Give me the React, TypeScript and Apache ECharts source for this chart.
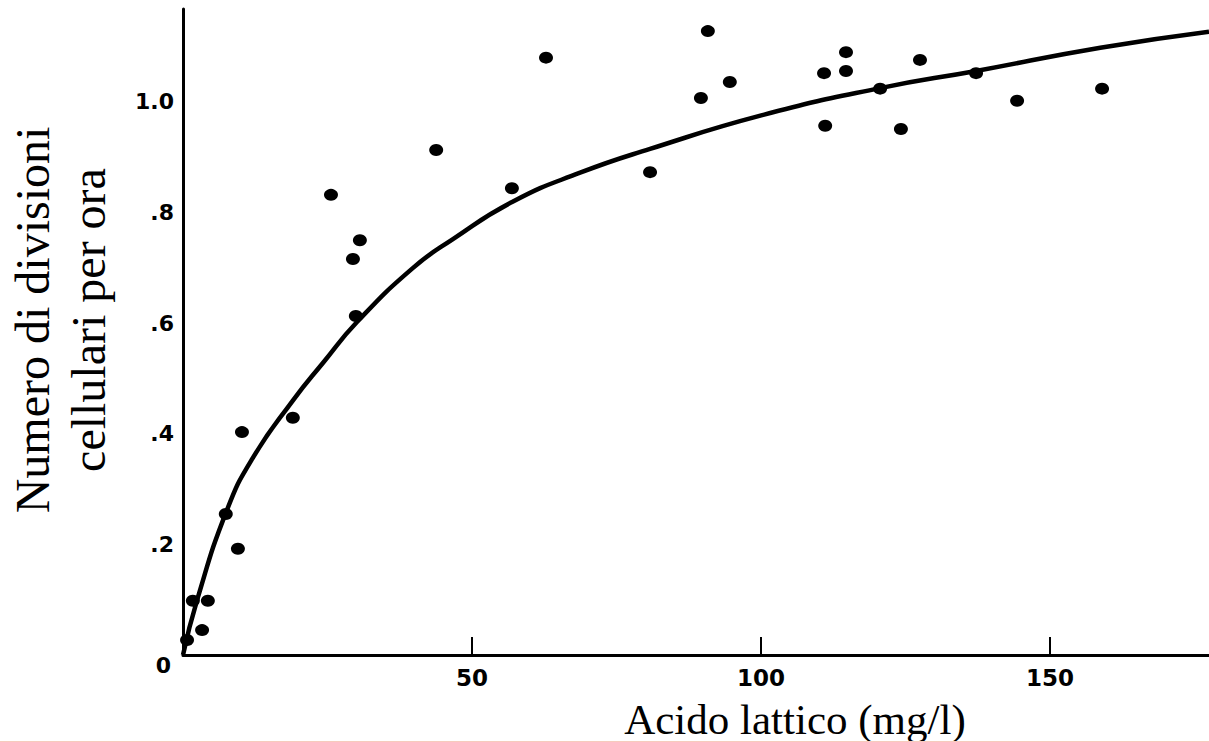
import React, { useEffect, useRef } from "react";
import * as echarts from "echarts";

// Scatter observations: lactic acid (mg/l) vs. cell divisions per hour
const lacticAcid = [0.7, 1.7, 4.3, 3.3, 7.4, 9.5, 10.2, 19.0, 25.6, 29.4, 30.6, 29.9, 43.8, 56.9, 62.8, 80.8, 89.6, 90.8, 94.6, 110.9, 111.1, 114.7, 114.7, 120.6, 124.2, 127.5, 137.2, 144.3, 159.0];
const divisionRate = [0.027, 0.098, 0.098, 0.045, 0.255, 0.192, 0.403, 0.429, 0.832, 0.716, 0.75, 0.613, 0.913, 0.844, 1.08, 0.873, 1.007, 1.128, 1.036, 1.052, 0.957, 1.09, 1.056, 1.024, 0.951, 1.076, 1.052, 1.002, 1.024];

// Fitted curve
const curveX = [0, 2.4, 7.6, 12.0, 19.0, 24.2, 30.1, 39.8, 46.7, 57.1, 68.7, 80.8, 100.2, 120.6, 137.2, 158.7, 177.5];
const curveY = [0, 0.098, 0.262, 0.355, 0.46, 0.528, 0.602, 0.7, 0.752, 0.82, 0.872, 0.915, 0.976, 1.025, 1.056, 1.098, 1.127];

const xTickLabels = ["", "50", "100", "150"];
const yTickLabels = ["0", ".2", ".4", ".6", ".8", "1.0"];

const xTitle = "Acido lattico (mg/l)";
const yTitle = "Numero di divisioni\ncellulari per ora";

const tickFont = "'DejaVu Sans', sans-serif";
const titleFont = "'Liberation Serif', 'Times New Roman', serif";

export default function App() {
  const ref = useRef<HTMLDivElement>(null);

  useEffect(() => {
    if (!ref.current) return;
    const chart = echarts.init(ref.current, undefined, { renderer: "svg" });
    chart.setOption({
      animation: false,
      backgroundColor: "#ffffff",
      grid: { left: 183, right: 0, top: 9, bottom: 87, containLabel: false },
      xAxis: {
        type: "value",
        min: 0,
        max: 177.5,
        interval: 50,
        axisLine: { show: true, onZero: false, lineStyle: { color: "#000", width: 3 } },
        axisTick: { show: true, inside: true, length: 18, lineStyle: { color: "#000", width: 2 } },
        splitLine: { show: false },
        axisLabel: {
          showMinLabel: false,
          showMaxLabel: false,
          margin: 11,
          color: "#000",
          fontFamily: tickFont,
          fontWeight: "bold",
          fontSize: 23,
          formatter: (v: number) => xTickLabels[Math.round(v / 50)] ?? "",
        },
      },
      yAxis: {
        type: "value",
        min: 0,
        max: 1.168,
        interval: 0.2,
        axisLine: { show: true, onZero: false, lineStyle: { color: "#000", width: 3 } },
        axisTick: { show: false },
        splitLine: { show: false },
        axisLabel: {
          showMaxLabel: false,
          margin: 9,
          color: "#000",
          fontFamily: tickFont,
          fontWeight: "bold",
          fontSize: 22,
          formatter: (v: number) => {
            const i = Math.round(v / 0.2);
            const l = yTickLabels[i] ?? "";
            return i === 0 ? `{z|${l}}` : l;
          },
          rich: {
            z: {
              padding: [20, 3, 0, 0],
              color: "#000",
              fontFamily: tickFont,
              fontWeight: "bold",
              fontSize: 22,
            },
          },
        },
      },
      series: [
        {
          type: "line",
          data: curveX.map((x, i) => [x, curveY[i]]),
          smooth: 0.5,
          showSymbol: false,
          lineStyle: { color: "#000", width: 4.5 },
          z: 2,
          silent: true,
        },
        {
          type: "scatter",
          data: lacticAcid.map((x, i) => [x, divisionRate[i]]),
          symbol: "circle",
          symbolSize: [14, 12],
          itemStyle: { color: "#000", opacity: 1 },
          z: 3,
        },
      ],
      graphic: [
        {
          type: "text",
          x: 795,
          y: 719,
          style: {
            text: xTitle,
            fill: "#000",
            font: `43px ${titleFont}`,
            align: "center",
            verticalAlign: "middle",
          },
        },
        {
          type: "text",
          x: 60,
          y: 320,
          rotation: Math.PI / 2,
          style: {
            text: yTitle,
            fill: "#000",
            font: `48px ${titleFont}`,
            lineHeight: 56,
            align: "center",
            verticalAlign: "middle",
          },
        },
        {
          type: "rect",
          shape: { x: 0, y: 741, width: 1209, height: 1 },
          style: { fill: "#f6cbbd" },
          silent: true,
        },
      ],
    });
    return () => chart.dispose();
  }, []);

  return (
    <div
      ref={ref}
      style={{ position: "absolute", left: 0, top: 0, width: 1209, height: 742, background: "#fff" }}
    />
  );
}
